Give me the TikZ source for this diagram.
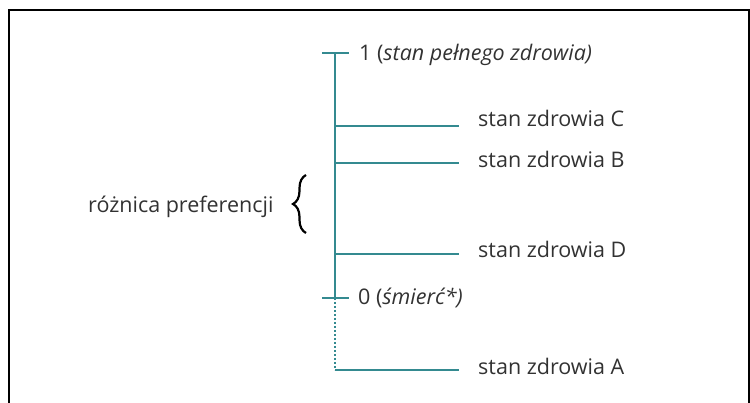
\documentclass[tikz,border=0pt]{standalone}
\usepackage{fontspec}
\setmainfont{Open Sans}
\usetikzlibrary{decorations.pathreplacing}
\definecolor{axisteal}{RGB}{52,138,144}
\definecolor{labelgray}{RGB}{50,50,50}
\tikzset{
  axis/.style={draw=axisteal, line width=1.2pt},
  tick/.style={draw=axisteal, line width=1.2pt},
  label/.style={anchor=base west, inner sep=0pt, text=labelgray, font=\fontsize{21.5}{24}\selectfont},
  frame/.style={draw=black, line width=1.5pt},
}
\begin{document}
\begin{tikzpicture}[x=1pt, y=-1pt]
\useasboundingbox (0,0) rectangle (750,403);
% frame open at the bottom
\draw[frame] (9,403) -- (9,10) -- (749,10) -- (749,403);

% scale points
\coordinate (top) at (335,53);
\coordinate (zero) at (335,298);
\coordinate (bottom) at (335,370);
\coordinate (tl) at (322,53);
\coordinate (tr) at (349,53);
\coordinate (zl) at (322,298);
\coordinate (zr) at (349,298);
\coordinate (c) at (335,126);
\coordinate (b) at (335,163);
\coordinate (d) at (335,254);
\coordinate (ce) at (459,126);
\coordinate (be) at (459,163);
\coordinate (de) at (459,254);
\coordinate (ae) at (459,370);

\draw[axis] (top) -- (zero);
\draw[axis, dash pattern=on 2pt off 2pt] (zero) -- (bottom);
\draw[tick] (tl) -- (tr);
\draw[tick] (zl) -- (zr);
\draw[axis] (c) -- (ce);
\draw[axis] (b) -- (be);
\draw[axis] (d) -- (de);
\draw[axis] (bottom) -- (ae);

\node[label] (one) at (359,61) {1 (\textit{stan pełnego zdrowia)}};
\node[label] (zerolbl) at (358,305) {0 (\textit{śmierć*)}};
\node[label] (lc) at (478,127) {stan zdrowia C};
\node[label] (lb) at (478,168) {stan zdrowia B};
\node[label] (ld) at (478,258) {stan zdrowia D};
\node[label] (la) at (478,374) {stan zdrowia A};
\node[label] (diff) at (88,213) {różnica preferencji};

\coordinate (br1) at (306,233);
\coordinate (br2) at (306,175);
\draw[decorate, decoration={brace, amplitude=13pt}, line width=2.2pt, black] (br1) -- (br2);
\end{tikzpicture}
\end{document}
